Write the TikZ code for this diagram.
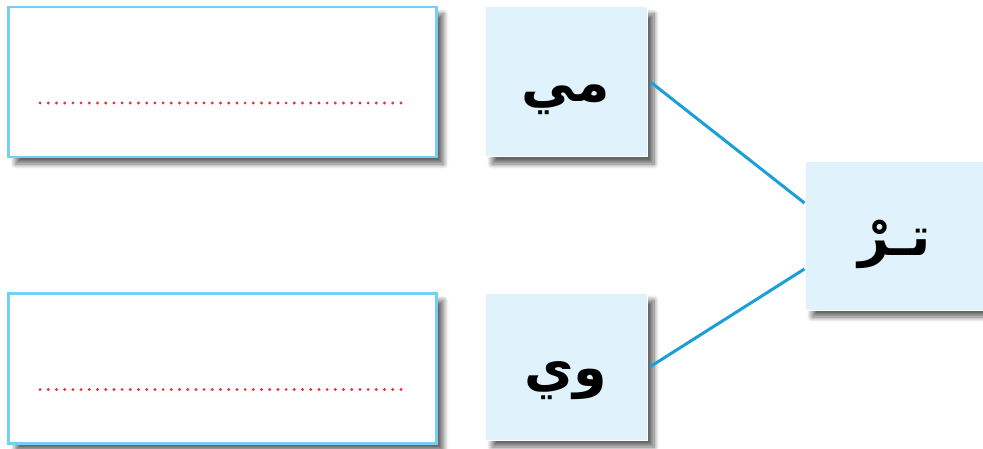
\documentclass[tikz,border=0pt]{standalone}
\usepackage{fontspec}
\usetikzlibrary{shadows.blur}
\newfontfamily\arabicfont[Script=Arabic]{DejaVu Sans}
\TeXXeTstate=1
\definecolor{boxblue}{HTML}{74CFF5}
\definecolor{cellblue}{HTML}{E0F2FC}
\definecolor{linkblue}{HTML}{1AA0D6}
\definecolor{dotred}{HTML}{E8303A}
\tikzset{
  answerbox/.style={
    draw=boxblue,
    line width=2.8pt,
    fill=white,
    minimum width=428pt,
    minimum height=150pt,
    blur shadow={shadow xshift=7pt, shadow yshift=-7pt, shadow blur radius=5pt, shadow blur steps=10, shadow opacity=60}
  },
  syllable/.style={
    draw=white,
    line width=1pt,
    fill=cellblue,
    minimum width=162pt,
    minimum height=150pt,
    text height=40pt,
    text depth=0pt,
    blur shadow={shadow xshift=7pt, shadow yshift=-7pt, shadow blur radius=5pt, shadow blur steps=10, shadow opacity=60},
    font=\arabicfont\bfseries\fontsize{54}{60}\selectfont
  },
  link/.style={
    draw=linkblue,
    line width=3pt
  },
  dotline/.style={
    draw=dotred,
    line width=3.2pt,
    line cap=round,
    dash pattern=on 0pt off 8.2pt
  }
}
\begin{document}
\begin{tikzpicture}[x=1pt,y=-1pt]
  \useasboundingbox (0,0) rectangle (983,449);
  % answer boxes on the left
  \node[answerbox] (blankA) at (222.5,82) {};
  \node[answerbox] (blankB) at (222.5,368.5) {};
  \foreach \b in {blankA,blankB}{
    \draw[dotline] ([xshift=33pt,yshift=-21pt]\b.west) -- ([xshift=-35pt,yshift=-21pt]\b.east);
  }
  % syllables
  \node[syllable] (mi) at (566,82) {\beginR مي\endR};
  \node[syllable, minimum height=147pt] (wi) at (566,366.5) {\beginR وي\endR};
  \node[syllable, minimum width=180pt, minimum height=148pt] (tr) at (895,236) {\beginR تـرْ\endR};
  \draw[link] ([xshift=3pt]mi.east) -- (tr.160);
  \draw[link] ([xshift=3pt]wi.east) -- (tr.200);
\end{tikzpicture}
\end{document}
